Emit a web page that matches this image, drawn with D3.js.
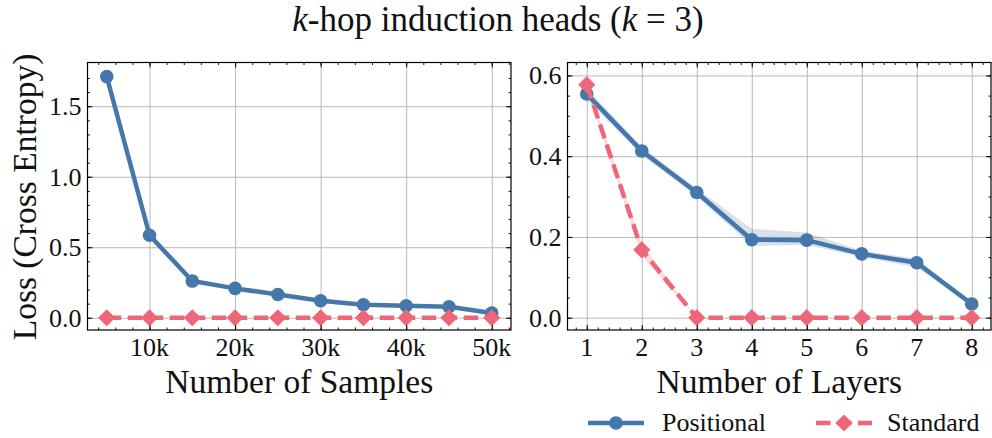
<!DOCTYPE html>
<html>
<head>
<meta charset="utf-8">
<script src="https://cdn.jsdelivr.net/npm/d3@7"></script>
<style>
  body { margin: 0; background: #fff; }
  svg text { font-family: "Liberation Serif", "DejaVu Serif", serif; fill: #111; }
</style>
</head>
<body>
<svg id="chart" width="992" height="438"></svg>
<script>
// data
const samples = [5000, 10000, 15000, 20000, 25000, 30000, 35000, 40000, 45000, 50000];
const posSamples = [1.71, 0.585, 0.26, 0.208, 0.165, 0.12, 0.092, 0.085, 0.078, 0.033];
const posSamplesLo = [1.70, 0.56, 0.25, 0.200, 0.158, 0.113, 0.085, 0.079, 0.072, 0.028];
const posSamplesHi = [1.72, 0.60, 0.27, 0.216, 0.172, 0.127, 0.099, 0.091, 0.084, 0.038];
const stdSamples = [0, 0, 0, 0, 0, 0, 0, 0, 0, 0];

const layers = [1, 2, 3, 4, 5, 6, 7, 8];
const posLayers = [0.554, 0.413, 0.31, 0.193, 0.192, 0.158, 0.136, 0.034];
const posLayersLo = [0.54, 0.403, 0.30, 0.178, 0.180, 0.150, 0.124, 0.029];
const posLayersHi = [0.568, 0.423, 0.32, 0.220, 0.211, 0.166, 0.146, 0.039];
const stdLayers = [0.577, 0.168, 0, 0, 0, 0, 0, 0];
const stdLayersLo = [0.567, 0.153, 0, 0, 0, 0, 0, 0];
const stdLayersHi = [0.587, 0.183, 0, 0, 0, 0, 0, 0];

const sampleTicks = [10000, 20000, 30000, 40000, 50000];
const sampleTickLabels = ["10k", "20k", "30k", "40k", "50k"];
const lossTicksLeft = [0, 0.5, 1.0, 1.5];
const lossTicksRight = [0, 0.2, 0.4, 0.6];

const blue = "#4477aa", pink = "#ee6677";
const serif = '"Liberation Serif", "DejaVu Serif", serif';

const svg = d3.select("#chart");

// title
const title = svg.append("text").attr("x", 498).attr("y", 31)
  .attr("text-anchor", "middle").style("font-family", serif).style("font-size", "35px");
title.append("tspan").style("font-style", "italic").text("k");
title.append("tspan").text("-hop induction heads (");
title.append("tspan").style("font-style", "italic").text("k");
title.append("tspan").text(" = 3)");

function panel(opts) {
  const x = d3.scaleLinear().domain(opts.xdom).range([opts.left, opts.right]);
  const y = d3.scaleLinear().domain(opts.ydom).range([opts.bottom, opts.top]);
  const g = svg.append("g");

  // grid
  g.append("g").attr("transform", `translate(0,${opts.bottom})`)
    .call(d3.axisBottom(x).tickValues(opts.xticks).tickSize(-(opts.bottom - opts.top)).tickFormat(""))
    .call(a => a.select(".domain").remove())
    .selectAll("line").attr("stroke", "#b8b8b8").attr("stroke-width", 1);
  g.append("g").attr("transform", `translate(${opts.left},0)`)
    .call(d3.axisLeft(y).tickValues(opts.yticks).tickSize(-(opts.right - opts.left)).tickFormat(""))
    .call(a => a.select(".domain").remove())
    .selectAll("line").attr("stroke", "#b8b8b8").attr("stroke-width", 1);

  // bands
  opts.series.forEach(s => {
    g.append("path")
      .attr("d", d3.area().x((d, i) => x(opts.xs[i])).y0((d, i) => y(s.lo[i])).y1((d, i) => y(s.hi[i]))(s.vals))
      .attr("fill", s.color).attr("fill-opacity", 0.22);
  });

  // lines + markers
  const line = d3.line().x((d, i) => x(opts.xs[i])).y(d => y(d));
  opts.series.forEach(s => {
    g.append("path").attr("d", line(s.vals)).attr("fill", "none")
      .attr("stroke", s.color).attr("stroke-width", 4.5)
      .attr("stroke-dasharray", s.dash ? "14.5,6.5" : null)
      .attr("stroke-linejoin", "round");
    s.vals.forEach((v, i) => {
      const cx = x(opts.xs[i]), cy = y(v);
      if (s.marker === "circle") {
        g.append("circle").attr("cx", cx).attr("cy", cy).attr("r", 6.8).attr("fill", s.color);
      } else {
        g.append("path").attr("d", `M${cx},${cy - 8.6}L${cx + 8.6},${cy}L${cx},${cy + 8.6}L${cx - 8.6},${cy}Z`)
          .attr("fill", s.color);
      }
    });
  });

  // ticks all four sides, inward
  const tickSides = [
    [d3.axisBottom(x), `translate(0,${opts.bottom})`, opts.xticks, opts.xminor],
    [d3.axisTop(x), `translate(0,${opts.top})`, opts.xticks, opts.xminor],
    [d3.axisLeft(y), `translate(${opts.left},0)`, opts.yticks, opts.yminor],
    [d3.axisRight(y), `translate(${opts.right},0)`, opts.yticks, opts.yminor]
  ];
  tickSides.forEach(([ax, tr, maj, min]) => {
    g.append("g").attr("transform", tr)
      .call(ax.tickValues(min).tickSize(-2.5).tickFormat(""))
      .call(a => a.select(".domain").remove())
      .selectAll("line").attr("stroke", "#000").attr("stroke-width", 0.9);
    g.append("g").attr("transform", tr)
      .call(ax.tickValues(maj).tickSize(-5).tickFormat(""))
      .call(a => a.select(".domain").remove())
      .selectAll("line").attr("stroke", "#000").attr("stroke-width", 1);
  });

  // frame
  g.append("rect").attr("x", opts.left).attr("y", opts.top)
    .attr("width", opts.right - opts.left).attr("height", opts.bottom - opts.top)
    .attr("fill", "none").attr("stroke", "#000").attr("stroke-width", 1.2);

  // tick labels
  g.selectAll(null).data(opts.xticks).join("text")
    .attr("x", d => x(d)).attr("y", 356).attr("text-anchor", "middle")
    .style("font-family", serif).style("font-size", "26px").text((d, i) => opts.xlabels[i]);
  g.selectAll(null).data(opts.yticks).join("text")
    .attr("x", opts.left - 6).attr("y", d => y(d)).attr("dy", "0.34em").attr("text-anchor", "end")
    .style("font-family", serif).style("font-size", "26px").text(d => d3.format(".1f")(d));

  // axis label
  g.append("text").attr("x", (opts.left + opts.right) / 2).attr("y", 393)
    .attr("text-anchor", "middle").style("font-family", serif).style("font-size", "33.5px").text(opts.xtitle);
}

panel({
  left: 87.5, right: 511, top: 62.5, bottom: 330,
  xdom: [2750, 52250], ydom: [-0.087, 1.81],
  xs: samples,
  xticks: sampleTicks, xlabels: sampleTickLabels,
  xminor: d3.range(4000, 52001, 2000),
  yticks: lossTicksLeft, yminor: d3.range(0, 18).map(d => d / 10),
  xtitle: "Number of Samples",
  series: [
    { vals: posSamples, lo: posSamplesLo, hi: posSamplesHi, color: blue, marker: "circle" },
    { vals: stdSamples, lo: stdSamples, hi: stdSamples, color: pink, marker: "diamond", dash: true }
  ]
});

panel({
  left: 567.5, right: 991, top: 62.5, bottom: 330,
  xdom: [0.65, 8.35], ydom: [-0.0305, 0.632],
  xs: layers,
  xticks: layers, xlabels: layers.map(String),
  xminor: d3.range(4, 42).map(d => d / 5),
  yticks: lossTicksRight, yminor: d3.range(0, 13).map(d => d / 20),
  xtitle: "Number of Layers",
  series: [
    { vals: posLayers, lo: posLayersLo, hi: posLayersHi, color: blue, marker: "circle" },
    { vals: stdLayers, lo: stdLayersLo, hi: stdLayersHi, color: pink, marker: "diamond", dash: true }
  ]
});

// y label
svg.append("text").attr("transform", "translate(36,197) rotate(-90)")
  .attr("text-anchor", "middle").style("font-family", serif).style("font-size", "33.5px")
  .text("Loss (Cross Entropy)");

// legend
const leg = svg.append("g");
leg.append("line").attr("x1", 588).attr("x2", 644).attr("y1", 423).attr("y2", 423)
  .attr("stroke", blue).attr("stroke-width", 4.5);
leg.append("circle").attr("cx", 616).attr("cy", 423).attr("r", 6.8).attr("fill", blue);
leg.append("text").attr("x", 662).attr("y", 431).style("font-family", serif).style("font-size", "26px").text("Positional");
leg.append("line").attr("x1", 816).attr("x2", 872).attr("y1", 423).attr("y2", 423)
  .attr("stroke", pink).attr("stroke-width", 4.5).attr("stroke-dasharray", "14.5,6.5");
leg.append("path").attr("d", "M844,414.4L852.6,423L844,431.6L835.4,423Z").attr("fill", pink);
leg.append("text").attr("x", 887).attr("y", 431).style("font-family", serif).style("font-size", "26px").text("Standard");
</script>
</body>
</html>
